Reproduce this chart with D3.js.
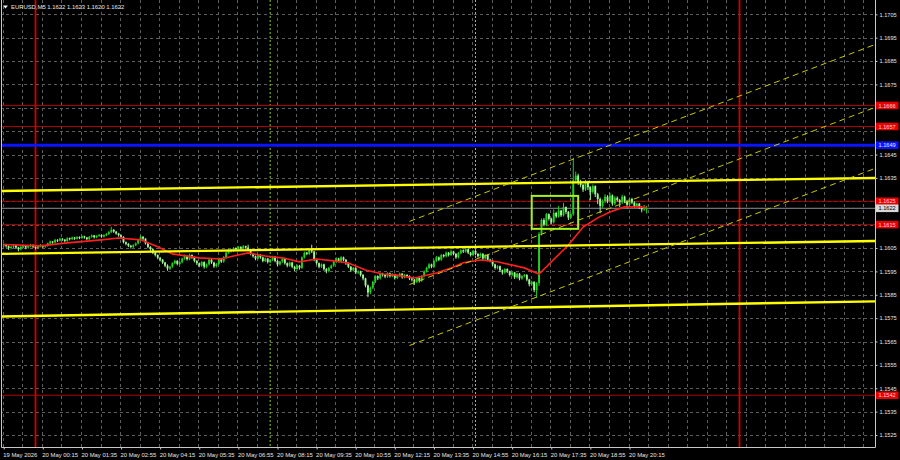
<!DOCTYPE html>
<html><head><meta charset="utf-8">
<script src="https://cdn.jsdelivr.net/npm/d3@7"></script>
<style>html,body{margin:0;padding:0;background:#000;overflow:hidden}</style>
</head><body>
<svg id="c" width="900" height="460"></svg>
<script>
// ---------------- data ----------------
const symbolTitle = "EURUSD,M5";
const lastQuote = ["1.1622", "1.1623", "1.1620", "1.1622"];
const firstBarTime = "2026-05-19 22:55";
const lastLabelBeforeBars = "19 May 2026";

const barOpen = [
1.16062,1.16065,1.16058,1.1605,1.16055,1.16062,1.16052,1.16045,
1.16055,1.1606,1.16052,1.16058,1.16063,1.16055,1.1605,1.16058,
1.16062,1.16056,1.1606,1.1607,1.16078,1.16074,1.16085,1.16082,
1.1609,1.16086,1.1608,1.16092,1.16088,1.16095,1.1609,1.16097,
1.16093,1.161,1.16095,1.16088,1.16098,1.16104,1.16096,1.16102,
1.16106,1.16099,1.16105,1.1611,1.16118,1.16128,1.1612,1.16112,
1.16105,1.16098,1.16075,1.16068,1.1606,1.16055,1.16062,1.1607,
1.16085,1.16098,1.1609,1.1607,1.16055,1.16045,1.1603,1.1602,
1.16008,1.16,1.15988,1.15975,1.15962,1.1597,1.15985,1.15995,
1.15982,1.1599,1.16005,1.16015,1.16002,1.1602,1.1601,1.15995,
1.15985,1.15975,1.1599,1.1597,1.1598,1.16,1.15988,1.15972,
1.15982,1.16005,1.15992,1.1601,1.1603,1.16042,1.16038,1.1605,
1.16045,1.16055,1.16048,1.16058,1.16052,1.16045,1.16025,1.16015,
1.16005,1.1602,1.1601,1.15995,1.16005,1.1599,1.16,1.16012,
1.15995,1.1598,1.15992,1.16005,1.15985,1.15975,1.15988,1.1597,
1.1596,1.15975,1.15965,1.1601,1.1603,1.16025,1.1604,1.16035,
1.16,1.15985,1.1597,1.1598,1.1596,1.15952,1.15965,1.15975,
1.1599,1.16005,1.15995,1.1601,1.16,1.15985,1.1597,1.15955,
1.15965,1.15945,1.1595,1.15935,1.1592,1.1589,1.1586,1.1588,
1.15905,1.1593,1.1592,1.1594,1.15935,1.15928,1.15942,1.1593,
1.15938,1.15922,1.15932,1.1594,1.15925,1.15935,1.1593,1.1592,
1.15915,1.15905,1.15922,1.1591,1.1593,1.1595,1.15965,1.1598,
1.1597,1.15995,1.1601,1.16,1.1602,1.16015,1.1603,1.1602,
1.16035,1.16025,1.1601,1.16028,1.1604,1.16035,1.16045,1.1603,
1.1602,1.16038,1.16025,1.16015,1.16025,1.16005,1.1602,1.16,
1.15995,1.1598,1.15965,1.15972,1.15955,1.15945,1.1596,1.1595,
1.15935,1.15945,1.15925,1.1594,1.1592,1.1593,1.15935,1.15915,
1.15895,1.15905,1.1587,1.159,1.1611,1.1617,1.1615,1.16195,
1.16175,1.1616,1.162,1.16185,1.1621,1.1619,1.16225,1.16205,
1.1618,1.16195,1.1634,1.1636,1.1633,1.1632,1.163,1.16335,
1.1631,1.1629,1.16315,1.1628,1.1626,1.1623,1.1625,1.1627,
1.1625,1.16275,1.1624,1.16265,1.16255,1.16245,1.1627,1.1625,
1.16235,1.1626,1.16245,1.1623,1.1624,1.16225,1.16215,1.1622];

const barHigh = [
1.1607,1.16068,1.16061,1.16059,1.16067,1.16064,1.16055,1.16058,
1.16065,1.16062,1.16061,1.16068,1.16066,1.16058,1.1606,1.16067,
1.16064,1.16063,1.16073,1.16082,1.1608,1.16089,1.16088,1.16094,
1.16092,1.16088,1.16096,1.16095,1.16099,1.16098,1.16101,1.161,
1.16104,1.16103,1.16097,1.16101,1.16108,1.16106,1.16105,1.1611,
1.16108,1.16109,1.16114,1.16122,1.16141,1.16131,1.16123,1.16115,
1.16108,1.161,1.16078,1.16071,1.16063,1.16066,1.16074,1.16089,
1.16104,1.16101,1.16092,1.16073,1.16058,1.16048,1.16034,1.16023,
1.16012,1.16003,1.15991,1.1598,1.15974,1.15989,1.16,1.15998,
1.15994,1.16009,1.16022,1.16018,1.16026,1.16023,1.16013,1.15998,
1.15988,1.15994,1.15993,1.15984,1.16004,1.16003,1.15991,1.15986,
1.16009,1.16008,1.16015,1.16034,1.16046,1.16045,1.16054,1.16053,
1.16058,1.16057,1.16062,1.1606,1.16064,1.16047,1.16028,1.16018,
1.16024,1.16023,1.16013,1.16009,1.16008,1.16004,1.16017,1.16015,
1.15998,1.15996,1.16009,1.16008,1.15988,1.15992,1.15991,1.15974,
1.15979,1.15978,1.16014,1.16035,1.16034,1.16045,1.16064,1.16038,
1.16003,1.15988,1.15984,1.15983,1.15964,1.15969,1.15979,1.15994,
1.1601,1.16008,1.16015,1.16013,1.16003,1.15988,1.15973,1.15969,
1.15968,1.15954,1.15953,1.15938,1.15923,1.15894,1.15885,1.1591,
1.15934,1.15933,1.15945,1.15944,1.15938,1.15946,1.15945,1.15942,
1.1594,1.15936,1.15945,1.15943,1.15939,1.15938,1.15933,1.15923,
1.15918,1.15926,1.15925,1.15934,1.15954,1.1597,1.15985,1.15983,
1.16,1.16016,1.16014,1.16025,1.16024,1.16035,1.16033,1.16043,
1.16038,1.16028,1.16033,1.16045,1.16044,1.16051,1.16048,1.16033,
1.16042,1.16041,1.16028,1.1603,1.16028,1.16024,1.16023,1.16004,
1.15998,1.15983,1.15976,1.15975,1.15958,1.15964,1.15963,1.15953,
1.15949,1.15948,1.15944,1.15943,1.15934,1.15939,1.15938,1.15918,
1.1591,1.15908,1.15904,1.16118,1.16176,1.16178,1.162,1.16198,
1.1618,1.16215,1.16205,1.1623,1.16214,1.16243,1.16228,1.16208,
1.162,1.16436,1.16377,1.16368,1.16342,1.16325,1.16342,1.16338,
1.16314,1.16322,1.16318,1.16286,1.16266,1.16258,1.1628,1.16276,
1.16286,1.16279,1.16272,1.16271,1.1626,1.16278,1.16274,1.16255,
1.16266,1.16265,1.1625,1.16244,1.16243,1.16229,1.16234,1.1623];

const barLow = [
1.16057,1.16054,1.16044,1.16046,1.16052,1.16048,1.16038,1.16042,
1.16051,1.16047,1.16049,1.16055,1.16052,1.16046,1.16047,1.16055,
1.16052,1.16053,1.16058,1.16067,1.1607,1.16072,1.16078,1.1608,
1.16083,1.16076,1.16078,1.16085,1.16086,1.16087,1.16088,1.1609,
1.16091,1.16092,1.16085,1.16086,1.16096,1.16093,1.16094,1.161,
1.16096,1.16097,1.16103,1.16108,1.16116,1.16117,1.16109,1.16101,
1.16094,1.16072,1.16064,1.16056,1.1605,1.16052,1.1606,1.16068,
1.16083,1.16086,1.16067,1.16051,1.1604,1.16026,1.16016,1.16004,
1.15995,1.15984,1.1597,1.15955,1.15958,1.15967,1.15982,1.15978,
1.15979,1.15987,1.16002,1.15998,1.16,1.16006,1.15991,1.1598,
1.1597,1.15972,1.15964,1.15966,1.15977,1.15984,1.15967,1.15969,
1.15979,1.15988,1.15989,1.16008,1.16027,1.16034,1.16035,1.16041,
1.16043,1.16044,1.16046,1.16049,1.16042,1.16021,1.16011,1.16,
1.16002,1.16006,1.15991,1.15992,1.15986,1.15987,1.15997,1.15991,
1.15975,1.15977,1.15989,1.15981,1.1597,1.15972,1.15966,1.15954,
1.15956,1.1596,1.15963,1.16007,1.16021,1.16022,1.16031,1.15996,
1.15981,1.15965,1.15967,1.15955,1.15944,1.15948,1.15962,1.15972,
1.15987,1.15991,1.15992,1.15996,1.1598,1.15966,1.1595,1.15952,
1.1594,1.15941,1.1593,1.15914,1.15884,1.15842,1.15854,1.15876,
1.15902,1.15915,1.15917,1.1593,1.15923,1.15925,1.15926,1.15927,
1.15917,1.15919,1.15929,1.15921,1.15922,1.15926,1.15915,1.15909,
1.15895,1.15902,1.15904,1.15907,1.15927,1.15947,1.15962,1.15966,
1.15967,1.15992,1.15996,1.15997,1.16011,1.16012,1.16016,1.16018,
1.16021,1.16006,1.16007,1.16025,1.16031,1.16032,1.16026,1.16016,
1.16017,1.16021,1.16011,1.16012,1.16001,1.16002,1.15996,1.15991,
1.15975,1.1596,1.15961,1.1595,1.15938,1.15942,1.15945,1.1593,
1.15932,1.1592,1.15921,1.15914,1.15916,1.15926,1.1591,1.15888,
1.1589,1.15863,1.15838,1.1589,1.16106,1.16145,1.16146,1.1617,
1.16154,1.16157,1.1618,1.16182,1.16185,1.16187,1.16198,1.16172,
1.16176,1.1619,1.1633,1.16322,1.16312,1.16292,1.16296,1.163,
1.16257,1.16285,1.1627,1.1624,1.16201,1.16224,1.16244,1.16244,
1.16246,1.16233,1.16236,1.1625,1.16227,1.1624,1.16244,1.16222,
1.1623,1.1624,1.16225,1.16226,1.16219,1.16205,1.16211,1.162];

const barClose = [
1.16065,1.16058,1.1605,1.16055,1.16062,1.16052,1.16045,1.16055,
1.1606,1.16052,1.16058,1.16063,1.16055,1.1605,1.16058,1.16062,
1.16056,1.1606,1.1607,1.16078,1.16074,1.16085,1.16082,1.1609,
1.16086,1.1608,1.16092,1.16088,1.16095,1.1609,1.16097,1.16093,
1.161,1.16095,1.16088,1.16098,1.16104,1.16096,1.16102,1.16106,
1.16099,1.16105,1.1611,1.16118,1.16128,1.1612,1.16112,1.16105,
1.16098,1.16075,1.16068,1.1606,1.16055,1.16062,1.1607,1.16085,
1.16098,1.1609,1.1607,1.16055,1.16045,1.1603,1.1602,1.16008,
1.16,1.15988,1.15975,1.15962,1.1597,1.15985,1.15995,1.15982,
1.1599,1.16005,1.16015,1.16002,1.1602,1.1601,1.15995,1.15985,
1.15975,1.1599,1.1597,1.1598,1.16,1.15988,1.15972,1.15982,
1.16005,1.15992,1.1601,1.1603,1.16042,1.16038,1.1605,1.16045,
1.16055,1.16048,1.16058,1.16052,1.16045,1.16025,1.16015,1.16005,
1.1602,1.1601,1.15995,1.16005,1.1599,1.16,1.16012,1.15995,
1.1598,1.15992,1.16005,1.15985,1.15975,1.15988,1.1597,1.1596,
1.15975,1.15965,1.1601,1.1603,1.16025,1.1604,1.16035,1.16,
1.15985,1.1597,1.1598,1.1596,1.15952,1.15965,1.15975,1.1599,
1.16005,1.15995,1.1601,1.16,1.15985,1.1597,1.15955,1.15965,
1.15945,1.1595,1.15935,1.1592,1.1589,1.1586,1.1588,1.15905,
1.1593,1.1592,1.1594,1.15935,1.15928,1.15942,1.1593,1.15938,
1.15922,1.15932,1.1594,1.15925,1.15935,1.1593,1.1592,1.15915,
1.15905,1.15922,1.1591,1.1593,1.1595,1.15965,1.1598,1.1597,
1.15995,1.1601,1.16,1.1602,1.16015,1.1603,1.1602,1.16035,
1.16025,1.1601,1.16028,1.1604,1.16035,1.16045,1.1603,1.1602,
1.16038,1.16025,1.16015,1.16025,1.16005,1.1602,1.16,1.15995,
1.1598,1.15965,1.15972,1.15955,1.15945,1.1596,1.1595,1.15935,
1.15945,1.15925,1.1594,1.1592,1.1593,1.15935,1.15915,1.15895,
1.15905,1.1587,1.159,1.1611,1.1617,1.1615,1.16195,1.16175,
1.1616,1.162,1.16185,1.1621,1.1619,1.16225,1.16205,1.1618,
1.16195,1.1634,1.1636,1.1633,1.1632,1.163,1.16335,1.1631,
1.1629,1.16315,1.1628,1.1626,1.1623,1.1625,1.1627,1.1625,
1.16275,1.1624,1.16265,1.16255,1.16245,1.1627,1.1625,1.16235,
1.1626,1.16245,1.1623,1.1624,1.16225,1.16215,1.1622,1.1622];

// moving average (bar number counted from the first bar)
const maBar = [0,15,26,40,47,56,63,69,80,89,94,100,107,114,121,128,135,141,148,155,160,168,177,183,188,195,202,213,219,231,237,243,248,254,260,263];
const maValue = [1.16065,1.16059,1.16072,1.16085,1.16093,1.16085,1.16055,1.16025,1.16008,1.16003,1.16016,1.16029,1.16016,1.16008,1.15991,1.16003,1.15995,1.15986,1.15956,1.15939,1.15935,1.15922,1.15943,1.15965,1.15987,1.15999,1.15991,1.15965,1.15939,1.16063,1.16140,1.16179,1.16204,1.16226,1.16226,1.16222];

const priceTicks = [1.1525,1.1535,1.1545,1.1555,1.1565,1.1575,1.1585,1.1595,1.1605,1.1615,1.1625,1.1635,1.1645,1.1655,1.1665,1.1675,1.1685,1.1695,1.1705];
const redLevels = [1.1666, 1.1657, 1.1625, 1.1615, 1.1542];
const blueLevel = 1.1649;
const bidPrice = 1.1622;
const daySeparators = ["2026-05-20 00:00", "2026-05-21 00:00"];
const sessionMarks = ["2026-05-20 08:00", "2026-05-20 15:00"];
const trendTimes = ["2026-05-19 22:45", "2026-05-21 04:40"];
const trendUpper = [1.16294, 1.16350];
const trendMiddle = [1.16025, 1.16080];
const trendLower = [1.15757, 1.15822];
const channelTimes = ["2026-05-20 12:45", "2026-05-21 04:40"];
const channelTop = [1.16164, 1.16923];
const channelMid = [1.15894, 1.16654];
const channelBottom = [1.15633, 1.16393];
const boxTimes = ["2026-05-20 16:55", "2026-05-20 18:30"];
const boxPrices = [1.16273, 1.16132];

// ---------------- drawing ----------------
const parse = d3.timeParse("%Y-%m-%d %H:%M");
const W = 900, H = 460, plotR = 875, plotB = 447;
const svg = d3.select("#c");
svg.append("rect").attr("width", W).attr("height", H).attr("fill", "#000");

const x = d3.scaleTime()
  .domain([parse("2026-05-20 00:00"), parse("2026-05-21 00:00")])
  .range([35.5, 739.5]);
const y = d3.scaleLinear().domain([1.1525, 1.1705]).range([435, 14.3]);

const t0 = parse(firstBarTime);
const times = barClose.map((_, i) => d3.timeMinute.offset(t0, 5 * i));
const lastTime = times[times.length - 1];

svg.append("clipPath").attr("id", "clip").append("rect")
  .attr("x", 1).attr("y", 0).attr("width", plotR - 1).attr("height", plotB);
const plot = svg.append("g").attr("clip-path", "url(#clip)");

const gridColor = "#5e5e5e";
// grid
plot.append("g").selectAll("line").data(priceTicks).join("line")
  .attr("x1", 0).attr("x2", plotR).attr("y1", d => Math.round(y(d)) + 0.5).attr("y2", d => Math.round(y(d)) + 0.5)
  .attr("stroke", gridColor).attr("stroke-dasharray", "3,3");
const gridTimes = [];
for (let t = t0; x(t) < plotR; t = d3.timeMinute.offset(t, 40)) gridTimes.push(t);
plot.append("g").selectAll("line").data(gridTimes).join("line")
  .attr("x1", d => Math.round(x(d)) - 0.5).attr("x2", d => Math.round(x(d)) - 0.5)
  .attr("y1", 0).attr("y2", plotB)
  .attr("stroke", gridColor).attr("stroke-dasharray", "3,3");

// session marks
plot.append("g").selectAll("line").data(sessionMarks.map(parse)).join("line")
  .attr("x1", d => x(d)).attr("x2", d => x(d)).attr("y1", 0).attr("y2", plotB)
  .attr("stroke", "#8fcf1f").attr("stroke-dasharray", "2,2").attr("stroke-width", 1);

// day separators
plot.append("g").selectAll("line").data(daySeparators.map(parse)).join("line")
  .attr("x1", d => x(d)).attr("x2", d => x(d)).attr("y1", 0).attr("y2", plotB)
  .attr("stroke", "#d40000").attr("stroke-width", 1.8);

// horizontal levels
plot.append("g").selectAll("line").data(redLevels).join("line")
  .attr("x1", 0).attr("x2", plotR).attr("y1", d => y(d)).attr("y2", d => y(d))
  .attr("stroke", "#b00000").attr("stroke-width", 1);
plot.append("line").attr("x1", 0).attr("x2", plotR).attr("y1", y(bidPrice)).attr("y2", y(bidPrice))
  .attr("stroke", "#8a8f96").attr("stroke-width", 1);
plot.append("line").attr("x1", 0).attr("x2", plotR).attr("y1", y(blueLevel)).attr("y2", y(blueLevel))
  .attr("stroke", "#0a14ff").attr("stroke-width", 3);

// candles
const upCol = "#1fd21f", dnCol = "#a4f59a";
const cg = plot.append("g");
cg.selectAll("line").data(times).join("line")
  .attr("x1", (d) => x(d)).attr("x2", (d) => x(d))
  .attr("y1", (d, i) => y(barHigh[i])).attr("y2", (d, i) => y(barLow[i]) + 0.5)
  .attr("stroke", (d, i) => barClose[i] >= barOpen[i] ? upCol : dnCol).attr("stroke-width", 1);
cg.selectAll("rect").data(times).join("rect")
  .attr("x", d => x(d) - 0.95).attr("width", 1.9)
  .attr("y", (d, i) => y(Math.max(barOpen[i], barClose[i])))
  .attr("height", (d, i) => Math.max(0.9, Math.abs(y(barOpen[i]) - y(barClose[i]))))
  .attr("fill", (d, i) => barClose[i] >= barOpen[i] ? upCol : dnCol);

// moving average
plot.append("path")
  .datum(maBar.map((b, i) => [times[b], maValue[i]]))
  .attr("d", d3.line().x(d => x(d[0])).y(d => y(d[1])))
  .attr("fill", "none").attr("stroke", "#ff1e1e").attr("stroke-width", 1.6);

// trend lines
const tt = trendTimes.map(parse);
[trendUpper, trendMiddle, trendLower].forEach(p => {
  plot.append("line").attr("x1", x(tt[0])).attr("x2", x(tt[1]))
    .attr("y1", y(p[0])).attr("y2", y(p[1]))
    .attr("stroke", "#ffff00").attr("stroke-width", 2.4);
});
const ct = channelTimes.map(parse);
[channelTop, channelMid, channelBottom].forEach(p => {
  plot.append("line").attr("x1", x(ct[0])).attr("x2", x(ct[1]))
    .attr("y1", y(p[0])).attr("y2", y(p[1]))
    .attr("stroke", "#c9c900").attr("stroke-width", 1).attr("stroke-dasharray", "6,4");
});

// rectangle
const bt = boxTimes.map(parse);
plot.append("rect").attr("x", x(bt[0])).attr("width", x(bt[1]) - x(bt[0]))
  .attr("y", y(boxPrices[0])).attr("height", y(boxPrices[1]) - y(boxPrices[0]))
  .attr("fill", "none").attr("stroke", "#a8f01e").attr("stroke-width", 2);

// frame
const frame = svg.append("g").attr("stroke", "#c8c8c8").attr("stroke-width", 1);
frame.append("line").attr("x1", 1.5).attr("x2", 1.5).attr("y1", 0).attr("y2", plotB + 0.5);
frame.append("line").attr("x1", plotR + 0.5).attr("x2", plotR + 0.5).attr("y1", 0).attr("y2", plotB + 0.5);
frame.append("line").attr("x1", 1.5).attr("x2", plotR + 0.5).attr("y1", plotB + 0.5).attr("y2", plotB + 0.5);

const txtCol = "#e6e6e6";
const font = "'Liberation Sans', Arial, sans-serif";

// right axis (tick labels that sit under a price box are hidden, as in the terminal)
const boxPricesAll = redLevels.concat([blueLevel, bidPrice]);
const visibleTicks = priceTicks.filter(t => boxPricesAll.every(p => Math.abs(y(p) - y(t)) > 6));
const ya = svg.append("g").attr("transform", `translate(${plotR + 0.5},0)`)
  .call(d3.axisRight(y).tickValues(visibleTicks).tickFormat(d3.format(".4f")).tickSize(2).tickPadding(2));
ya.select(".domain").remove();
ya.selectAll("line").attr("stroke", "#c8c8c8");
ya.selectAll("text").attr("fill", txtCol).attr("font-size", "5.6px").attr("font-family", font);

// bottom axis
const labelTimes = [];
for (let t = t0; t <= lastTime; t = d3.timeMinute.offset(t, 80)) labelTimes.push(t);
const fmt = d3.timeFormat("%d %b %H:%M");
const xa = svg.append("g").attr("transform", `translate(0,${plotB + 0.5})`)
  .call(d3.axisBottom(x).tickValues(labelTimes)
    .tickFormat((d, i) => i === 0 ? lastLabelBeforeBars : fmt(d)).tickSize(2).tickPadding(2));
xa.select(".domain").remove();
xa.selectAll("line").attr("stroke", "#c8c8c8");
xa.selectAll("text").attr("fill", txtCol).attr("font-size", "5.9px").attr("font-family", font)
  .attr("text-anchor", "start").attr("dx", "-1").attr("dy", "0.9em");

// price boxes on the right
function priceBox(p, fill, col) {
  const g = svg.append("g");
  g.append("rect").attr("x", plotR + 1).attr("y", y(p) - 3.8).attr("width", 22.5).attr("height", 7.6).attr("fill", fill);
  g.append("text").attr("x", plotR + 3.5).attr("y", y(p) + 2.1).text(d3.format(".4f")(p))
    .attr("fill", col).attr("font-size", "5.6px").attr("font-family", font);
}
redLevels.forEach(p => priceBox(p, "#e60000", "#ffd8d8"));
priceBox(blueLevel, "#0a14ff", "#e6e6ff");
priceBox(bidPrice, "#d8d8d8", "#000");

// title
svg.append("path").attr("d", "M3,5.5 L8,5.5 L5.5,8.5 Z").attr("fill", "#f0f0f0");
svg.append("text").attr("x", 11).attr("y", 9.3)
  .text(symbolTitle + "  " + lastQuote.join(" "))
  .attr("fill", txtCol).attr("font-size", "5.9px").attr("font-family", font);
</script>
</body></html>
